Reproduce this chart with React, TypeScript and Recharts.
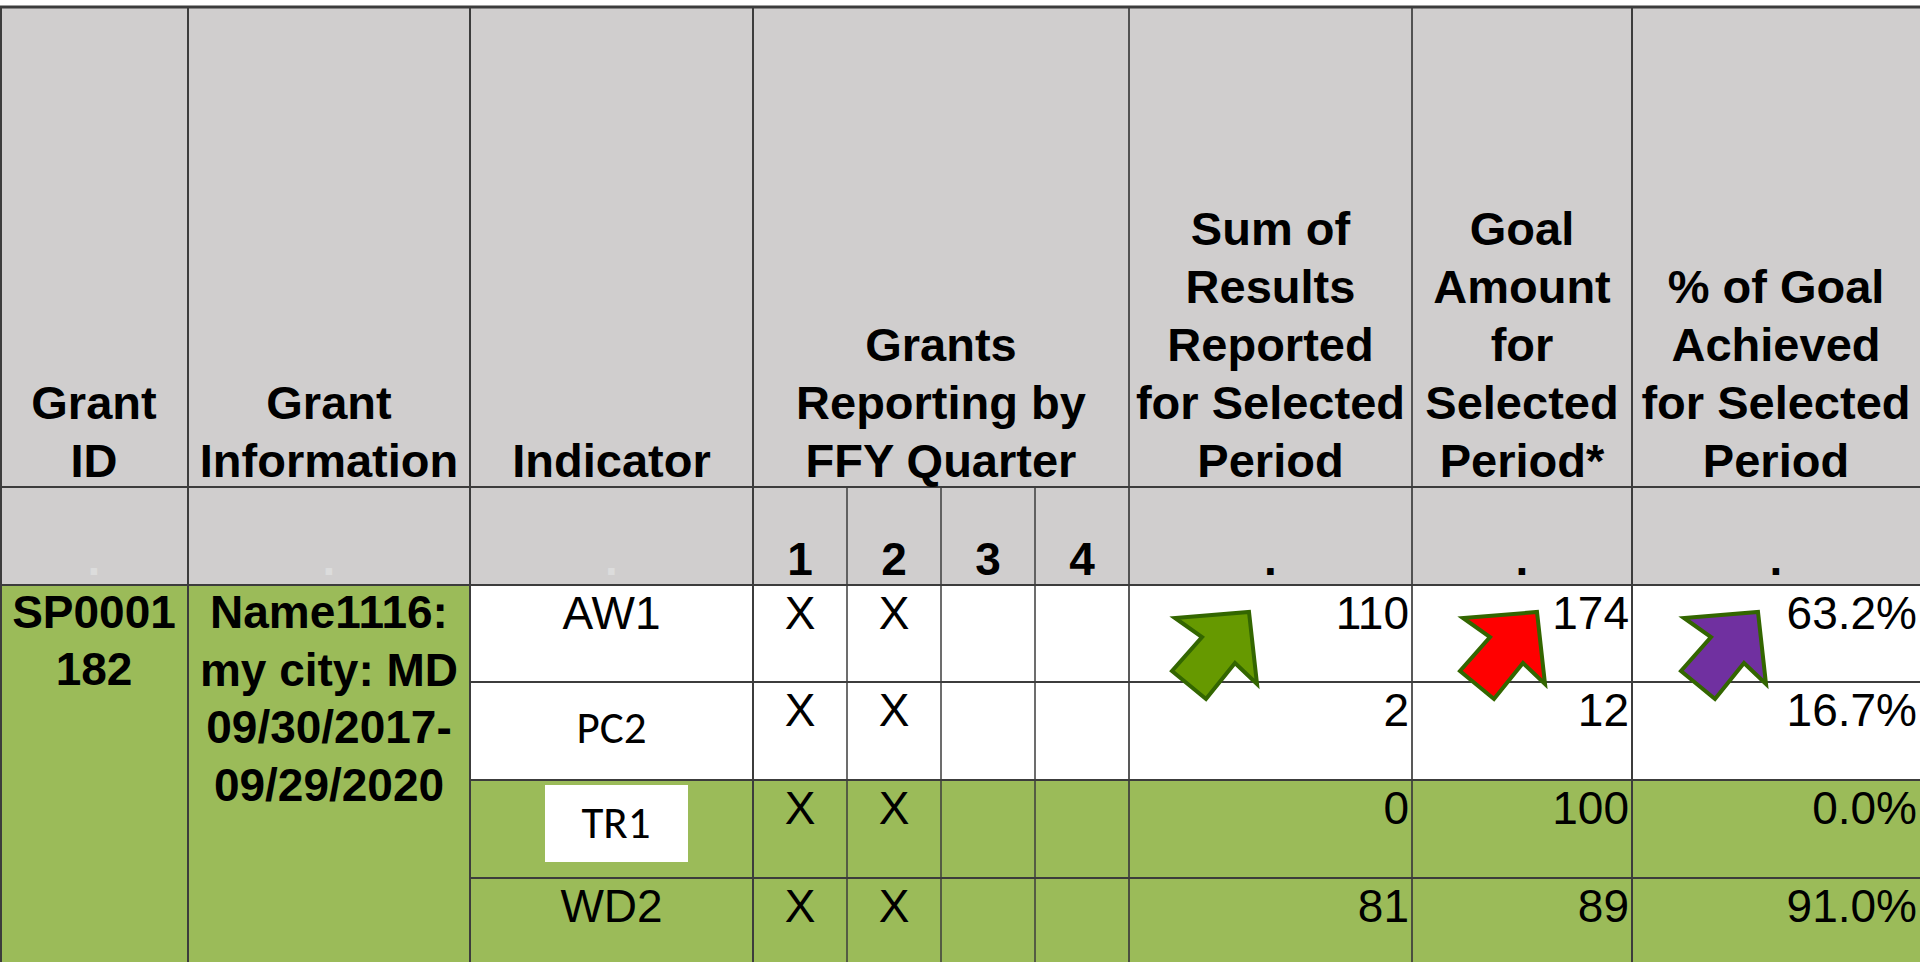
import { ComposedChart, XAxis, YAxis, Scatter, ReferenceArea, ReferenceLine } from 'recharts';

// table content
const headerTitles = [
  ['Grant', 'ID'],
  ['Grant', 'Information'],
  ['Indicator'],
  ['Grants', 'Reporting by', 'FFY Quarter'],
  ['Sum of', 'Results', 'Reported', 'for Selected', 'Period'],
  ['Goal', 'Amount', 'for', 'Selected', 'Period*'],
  ['% of Goal', 'Achieved', 'for Selected', 'Period'],
];
const quarterLabels = ['1', '2', '3', '4'];
const grantId = ['SP0001', '182'];
const grantInfo = ['Name1116:', 'my city: MD', '09/30/2017-', '09/29/2020'];
const indicators = ['AW1', 'PC2', 'TR1', 'WD2'];
const quarterMarks = [
  ['X', 'X', '', ''],
  ['X', 'X', '', ''],
  ['X', 'X', '', ''],
  ['X', 'X', '', ''],
];
const sumResults = [110, 2, 0, 81];
const goalAmounts = [174, 12, 100, 89];
const pctAchieved = [63.2, 16.7, 0.0, 91.0];

// layout (px in a 1920x962 frame)
const W = 1920;
const H = 962;
const COLS = [0, 188, 470, 753, 847, 941, 1035, 1129, 1412, 1632, 1920];
const HEADER_SPANS = [[0, 1], [1, 2], [2, 3], [3, 7], [7, 8], [8, 9], [9, 10]];
const TOP = 7;
const HEAD_BOTTOM = 487;
const SUB_BOTTOM = 585;
const ROW_TOPS = [585, 682, 780, 878];
const LINE_H = 58;
const GRAY = '#D0CECE';
const GREEN = '#9BBB59';
const LINE = '#3C3C3C';
const whiteRows = [true, true, false, false];
// indicators typed in the other font sit lower in their cells
const indicatorFont: Record<string, string> = { AW1: 'cell', PC2: 'calibri', TR1: 'calibri', WD2: 'cell' };
const arrows = [
  { x: 1249, y: 612, fill: '#669900' },
  { x: 1537, y: 612, fill: '#FF0000' },
  { x: 1758, y: 612, fill: '#7030A0' },
];

const STYLES: Record<string, { family: string; size: number; weight: string; fill: string }> = {
  head: { family: '"Liberation Sans", Arial, sans-serif', size: 47, weight: 'bold', fill: '#000' },
  bold: { family: '"Liberation Sans", Arial, sans-serif', size: 46, weight: 'bold', fill: '#000' },
  cell: { family: '"Liberation Sans", Arial, sans-serif', size: 46, weight: 'normal', fill: '#000' },
  calibri: { family: 'Carlito, "Open Sans", sans-serif', size: 45, weight: 'normal', fill: '#000' },
  ghost: { family: '"Liberation Sans", Arial, sans-serif', size: 46, weight: 'bold', fill: '#DCDCDC' },
};

type Item = { x: number; y: number; text: string; anchor: string; kind: string };

const mid = (a: number, b: number) => (COLS[a] + COLS[b]) / 2;

function buildTexts(): Item[] {
  const out: Item[] = [];
  headerTitles.forEach((lines, i) => {
    const [a, b] = HEADER_SPANS[i];
    lines.forEach((t, j) => {
      out.push({ x: mid(a, b), y: HEAD_BOTTOM - 10 - (lines.length - 1 - j) * LINE_H, text: t, anchor: 'middle', kind: 'head' });
    });
  });
  quarterLabels.forEach((t, q) => out.push({ x: mid(3 + q, 4 + q), y: 575, text: t, anchor: 'middle', kind: 'bold' }));
  [0, 1, 2].forEach((c) => out.push({ x: mid(c, c + 1), y: 575, text: '.', anchor: 'middle', kind: 'ghost' }));
  [7, 8, 9].forEach((c) => out.push({ x: mid(c, c + 1), y: 575, text: '.', anchor: 'middle', kind: 'bold' }));
  grantId.forEach((t, j) => out.push({ x: mid(0, 1), y: ROW_TOPS[0] + 43 + j * 57, text: t, anchor: 'middle', kind: 'bold' }));
  grantInfo.forEach((t, j) => out.push({ x: mid(1, 2), y: ROW_TOPS[0] + 43 + j * 57.7, text: t, anchor: 'middle', kind: 'bold' }));
  indicators.forEach((t, r) => {
    const kind = indicatorFont[t];
    const dy = kind === 'calibri' ? (r === 1 ? 61 : 58) : 44;
    out.push({ x: r === 2 ? 616 : mid(2, 3), y: ROW_TOPS[r] + dy, text: t, anchor: 'middle', kind });
  });
  quarterMarks.forEach((marks, r) => {
    marks.forEach((m, q) => {
      if (m) out.push({ x: mid(3 + q, 4 + q), y: ROW_TOPS[r] + 44, text: m, anchor: 'middle', kind: 'cell' });
    });
  });
  const right = [sumResults.map(String), goalAmounts.map(String), pctAchieved.map((v) => v.toFixed(1) + '%')];
  right.forEach((vals, k) => {
    vals.forEach((v, r) => out.push({ x: COLS[8 + k] - 3, y: ROW_TOPS[r] + 44, text: v, anchor: 'end', kind: 'cell' }));
  });
  return out;
}

const texts = buildTexts();

const TextShape = (props: any) => {
  const { cx, cy, payload } = props;
  const s = STYLES[payload.kind];
  return (
    <text x={cx} y={cy} textAnchor={payload.anchor} fontFamily={s.family} fontSize={s.size} fontWeight={s.weight} fill={s.fill}>
      {payload.text}
    </text>
  );
};

// arrow outline relative to its tip
const ARROW = [[0, 0], [8, 72], [-14, 51], [-43, 87], [-77, 59], [-47, 25], [-74, 6]];

const ArrowShape = (props: any) => {
  const { cx, cy, payload } = props;
  const pts = ARROW.map(([dx, dy]) => `${cx + dx},${cy + dy}`).join(' ');
  return <polygon points={pts} fill={payload.fill} stroke="#336600" strokeWidth={4} strokeLinejoin="miter" />;
};

type Seg = [number, number, number, number, number];
const vLines: Seg[] = [
  [COLS[0] + 1, TOP, COLS[0] + 1, H, 2],
  [COLS[1], TOP, COLS[1], H, 2],
  [COLS[2], TOP, COLS[2], H, 2],
  [COLS[3], TOP, COLS[3], H, 2],
  [COLS[4], HEAD_BOTTOM, COLS[4], H, 1.5],
  [COLS[5], HEAD_BOTTOM, COLS[5], H, 1.5],
  [COLS[6], HEAD_BOTTOM, COLS[6], H, 1.5],
  [COLS[7], TOP, COLS[7], H, 1.7],
  [COLS[8], TOP, COLS[8], H, 1.7],
  [COLS[9], TOP, COLS[9], H, 2],
];
const hLines: Seg[] = [
  [0, TOP, W, TOP, 3],
  [0, HEAD_BOTTOM, W, HEAD_BOTTOM, 2],
  [0, SUB_BOTTOM, W, SUB_BOTTOM, 2],
  ...ROW_TOPS.slice(1).map((y) => [COLS[2], y, W, y, 2] as Seg),
];

export default function App() {
  return (
    <div style={{ position: 'absolute', left: 0, top: 0, width: W, height: H, background: '#fff' }}>
      <ComposedChart width={W} height={H} margin={{ top: 0, right: 0, bottom: 0, left: 0 }}>
        <XAxis type="number" dataKey="x" domain={[0, W]} allowDataOverflow hide />
        <YAxis type="number" dataKey="y" domain={[0, H]} allowDataOverflow reversed hide />
        <ReferenceArea x1={0} x2={W} y1={TOP} y2={SUB_BOTTOM} fill={GRAY} fillOpacity={1} stroke="none" />
        <ReferenceArea x1={0} x2={COLS[2]} y1={SUB_BOTTOM} y2={H} fill={GREEN} fillOpacity={1} stroke="none" />
        {ROW_TOPS.map((y, r) => (
          <ReferenceArea
            key={'row' + r}
            x1={COLS[2]}
            x2={W}
            y1={y}
            y2={r < ROW_TOPS.length - 1 ? ROW_TOPS[r + 1] : H}
            fill={whiteRows[r] ? '#FFFFFF' : GREEN}
            fillOpacity={1}
            stroke="none"
          />
        ))}
        <ReferenceArea x1={545} x2={688} y1={785} y2={862} fill="#FFFFFF" fillOpacity={1} stroke="none" />
        {[...vLines, ...hLines].map(([x1, y1, x2, y2, w], i) => (
          <ReferenceLine key={'l' + i} segment={[{ x: x1, y: y1 }, { x: x2, y: y2 }]} stroke={LINE} strokeWidth={w} />
        ))}
        <Scatter data={texts} shape={TextShape} isAnimationActive={false} />
        <Scatter data={arrows} shape={ArrowShape} isAnimationActive={false} />
      </ComposedChart>
    </div>
  );
}
